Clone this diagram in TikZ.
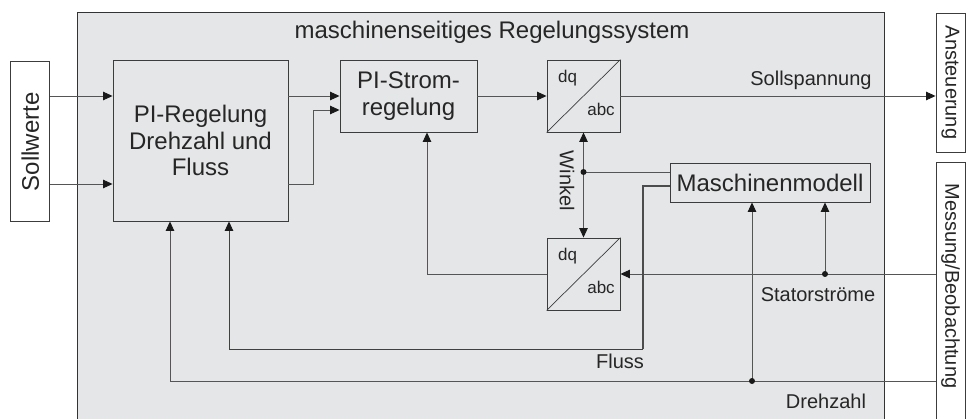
\documentclass[tikz,border=0pt]{standalone}
\usepackage{fontspec}
\usepackage{graphicx}
\setmainfont{Liberation Sans}
\usetikzlibrary{arrows.meta,positioning}
\definecolor{sysgray}{RGB}{229,230,232}
\definecolor{linegray}{RGB}{85,85,85}
\definecolor{edgegray}{RGB}{60,60,60}
\begin{document}
\begin{tikzpicture}[x=1pt, y=-1pt,
  box/.style={draw=edgegray, line width=0.9pt, fill=sysgray, inner sep=0pt, text=black!85},
  big/.style={font=\fontsize{24}{26.6}\selectfont, text=black!85},
  mid/.style={font=\fontsize{20}{23}\selectfont, text=black!85},
  small/.style={font=\fontsize{17}{19}\selectfont, text=black!85},
  sig/.style={draw=linegray, line width=0.9pt},
  arr/.style={sig, -{Triangle[length=9.5pt, width=8.5pt, color=black!90]}}]
  \useasboundingbox (0,0) rectangle (966,419);
  \clip (0,0) rectangle (966,419);
  % Rows of the signal lines
  \coordinate (rowU) at (0,96);
  \coordinate (rowB) at (0,184);
  \coordinate (rowW) at (0,172);
  \coordinate (rowQ) at (0,186);
  \coordinate (rowS) at (0,274);
  \coordinate (rowF) at (0,349);
  \coordinate (rowD) at (0,381);
  % Outer system box
  \node[box, draw=black!80, minimum width=807, minimum height=430, anchor=north west] (sys) at (77,12) {};
  \node[big, anchor=base] (title) at (492,39) {maschinenseitiges Regelungssystem};
  % Blocks
  \node[box, fill=white, big, minimum width=39, minimum height=160] (sollwerte) at (30.3,141.7) {\rotatebox{90}{Sollwerte}};
  \node[box, big, align=center, minimum width=175, minimum height=161] (piReg) at (200.5,140.5) {PI-Regelung\\Drehzahl und\\Fluss};
  \node[box, big, align=center, minimum width=137, minimum height=72] (piStrom) at (408.5,96) {PI-Strom-\\regelung};
  \node[box, minimum width=73, minimum height=72] (dqA) at (583.5,96) {};
  \node[box, minimum width=73, minimum height=72] (dqB) at (583.5,274) {};
  \foreach \blk in {dqA,dqB}{
    \draw[edgegray, line width=0.7pt] (\blk.south west) -- (\blk.north east);
    \node[small] (\blk-dq) at ([xshift=-16pt, yshift=18pt]\blk.center) {dq};
    \node[small] (\blk-abc) at ([xshift=17.5pt, yshift=-13pt]\blk.center) {abc};
  }
  \node[box, big, minimum width=200, minimum height=39] (modell) at (770,182.5) {Maschinenmodell};
  \node[box, fill=white, mid, minimum width=29, minimum height=139] (anst) at (950.5,82.5) {\rotatebox{-90}{Ansteuerung}};
  \node[box, fill=white, minimum width=29, minimum height=268, anchor=north west] (mess) at (936,162) {};
  \node[mid] (messtext) at (950.5,286) {\rotatebox{-90}{Messung/Beobachtung}};
  % Setpoints and current control
  \draw[arr] (sollwerte.east |- rowU) -- (piReg.west |- rowU);
  \draw[arr] (sollwerte.east |- rowB) -- (piReg.west |- rowB);
  \draw[arr] (piReg.east |- rowU) -- (piStrom.west);
  \draw[arr] (piReg.east |- rowB) -- ++(25,0) |- ([yshift=-14pt]piStrom.west);
  \draw[arr] (piStrom) -- (dqA);
  \draw[arr] (dqA.east) -- (anst.west |- dqA.east);
  \node[mid, anchor=base] (sollsp) at (811,86) {Sollspannung};
  % Winkel
  \coordinate (wdot) at (dqA.south |- rowW);
  \draw[sig] (modell.west |- rowW) -- (wdot);
  \draw[arr] (wdot) -- (dqA.south);
  \draw[arr] (wdot) -- (dqB.north);
  \fill[black!90] (wdot) circle (3);
  \node[mid, rotate=-90] (winkel) at (567,181) {Winkel};
  % Statorstroeme
  \coordinate (sdot) at (825,274);
  \draw[arr] (mess.west |- rowS) -- (dqB.east);
  \draw[arr] (sdot) -- (modell.south -| sdot);
  \fill[black!90] (sdot) circle (3);
  \draw[arr] (dqB.west) -| ([xshift=18.5pt]piStrom.south);
  \node[mid, anchor=base] (stator) at (818,302) {Statorströme};
  % Fluss
  \coordinate (fcorner) at (643,349);
  \draw[sig, draw=black!70, line width=1.2pt] (modell.west |- rowQ) -| (fcorner);
  \draw[arr, draw=black!75] (fcorner) -| ([xshift=28.5pt]piReg.south);
  \node[mid, anchor=base] (fluss) at (620,369) {Fluss};
  % Drehzahl
  \coordinate (ddot) at (752,381);
  \draw[arr] (mess.west |- rowD) -| ([xshift=-30.5pt]piReg.south);
  \draw[arr] (ddot) -- (modell.south -| ddot);
  \fill[black!90] (ddot) circle (3);
  \node[mid, anchor=base] (drehzahl) at (826,408) {Drehzahl};
\end{tikzpicture}
\end{document}
